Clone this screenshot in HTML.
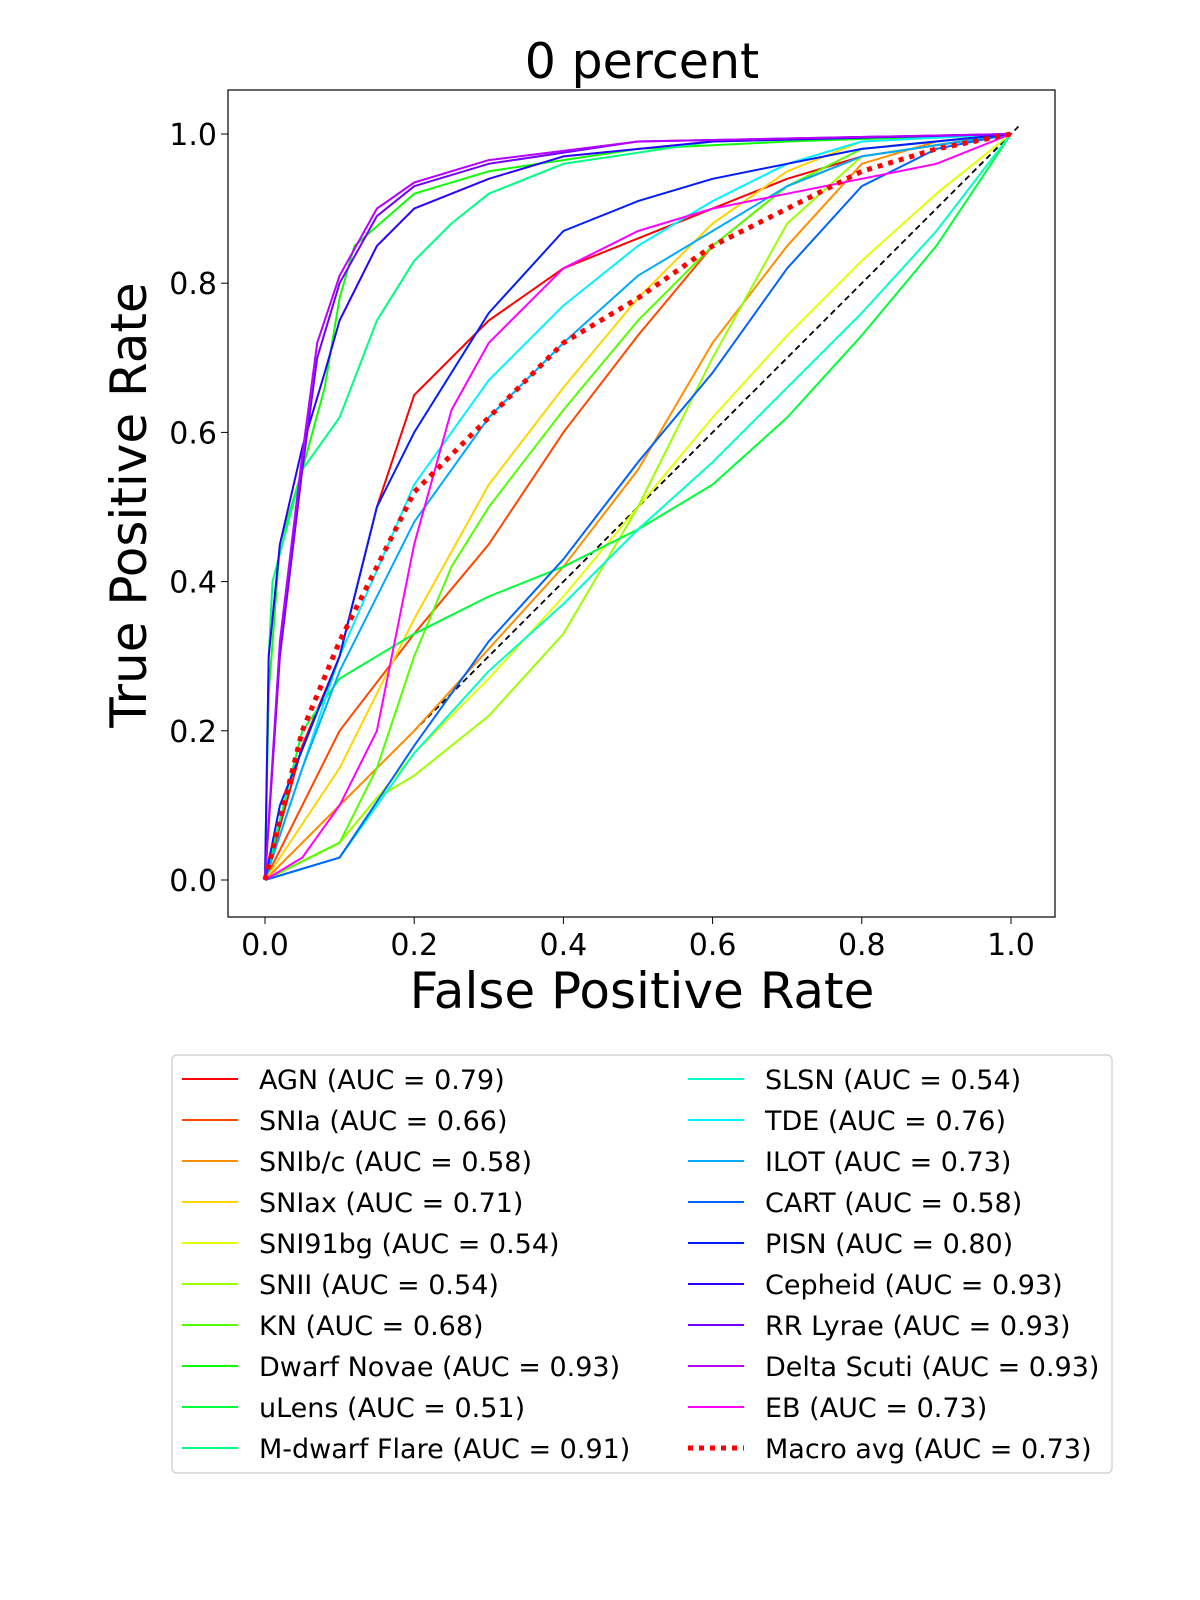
<!DOCTYPE html>
<html><head><meta charset="utf-8"><style>
body{margin:0;background:#fff;}
svg{display:block;font-family:"DejaVu Sans","Liberation Sans",sans-serif;}
</style></head><body>
<svg id="chart" width="1200" height="1600" viewBox="0 0 1200 1600">
<text x="642" y="78" font-size="49" text-anchor="middle">0 percent</text>
<rect x="228" y="90" width="827" height="827" fill="#fff" stroke="#000" stroke-width="1.2"/>
<g id="ticks"></g>
<g id="curves"></g>
<text x="642" y="1008" font-size="50" text-anchor="middle">False Positive Rate</text>
<text transform="translate(146,505) rotate(-90)" font-size="50" text-anchor="middle">True Positive Rate</text>
<rect x="172" y="1055" width="940" height="418" rx="5" fill="#fff" stroke="#ccc" stroke-width="1.2"/>
<g id="legend"></g>
</svg>
<script>
const ticks=[0,0.2,0.4,0.6,0.8,1.0];
const tickLabels=["0.0","0.2","0.4","0.6","0.8","1.0"];
const classNames=["AGN","SNIa","SNIb/c","SNIax","SNI91bg","SNII","KN","Dwarf Novae","uLens","M-dwarf Flare","SLSN","TDE","ILOT","CART","PISN","Cepheid","RR Lyrae","Delta Scuti","EB"];
const aucs=["0.79","0.66","0.58","0.71","0.54","0.54","0.68","0.93","0.51","0.91","0.54","0.76","0.73","0.58","0.80","0.93","0.93","0.93","0.73"];
const fprs=[
[0,0.05,0.1,0.15,0.2,0.3,0.4,0.5,0.6,0.7,0.8,1],
[0,0.1,0.2,0.3,0.4,0.5,0.6,0.7,0.8,1],
[0,0.2,0.4,0.5,0.6,0.7,0.8,0.9,1],
[0,0.1,0.2,0.3,0.4,0.5,0.6,0.7,0.8,1],
[0,0.1,0.2,0.3,0.4,0.5,0.6,0.7,0.8,0.9,1],
[0,0.1,0.15,0.2,0.3,0.4,0.5,0.6,0.7,0.8,1],
[0,0.1,0.15,0.2,0.25,0.3,0.4,0.5,0.6,0.7,0.8,1],
[0,0.005,0.02,0.05,0.08,0.1,0.12,0.2,0.3,0.5,0.7,1],
[0,0.05,0.1,0.2,0.3,0.4,0.5,0.6,0.7,0.8,0.9,1],
[0,0.005,0.01,0.05,0.1,0.15,0.2,0.25,0.3,0.4,0.6,1],
[0,0.1,0.2,0.3,0.4,0.5,0.6,0.7,0.8,0.9,1],
[0,0.05,0.1,0.2,0.3,0.4,0.5,0.6,0.7,0.8,1],
[0,0.05,0.1,0.2,0.3,0.4,0.5,0.6,0.7,0.8,1],
[0,0.1,0.2,0.3,0.4,0.5,0.6,0.7,0.8,0.9,1],
[0,0.02,0.1,0.15,0.2,0.3,0.4,0.5,0.6,0.7,0.8,1],
[0,0.005,0.02,0.05,0.08,0.1,0.15,0.2,0.3,0.4,0.6,1],
[0,0.02,0.05,0.07,0.1,0.15,0.2,0.3,0.5,1],
[0,0.02,0.05,0.07,0.1,0.15,0.2,0.3,0.5,1],
[0,0.05,0.1,0.15,0.2,0.25,0.3,0.4,0.5,0.6,0.7,0.8,0.9,1]];
const tprs=[
[0,0.18,0.3,0.5,0.65,0.75,0.82,0.86,0.9,0.94,0.97,1],
[0,0.2,0.33,0.45,0.6,0.73,0.85,0.93,0.97,1],
[0,0.2,0.42,0.55,0.72,0.85,0.96,0.99,1],
[0,0.15,0.35,0.53,0.66,0.78,0.88,0.95,0.99,1],
[0,0.05,0.17,0.27,0.38,0.5,0.62,0.73,0.83,0.92,1],
[0,0.05,0.11,0.14,0.22,0.33,0.5,0.7,0.88,0.97,1],
[0,0.05,0.15,0.3,0.42,0.5,0.63,0.75,0.85,0.93,0.98,1],
[0,0.25,0.45,0.55,0.66,0.78,0.85,0.92,0.95,0.98,0.99,1],
[0,0.2,0.27,0.33,0.38,0.42,0.47,0.53,0.62,0.73,0.85,1],
[0,0.3,0.4,0.55,0.62,0.75,0.83,0.88,0.92,0.96,0.99,1],
[0,0.03,0.17,0.28,0.37,0.47,0.56,0.66,0.76,0.87,1],
[0,0.15,0.3,0.53,0.67,0.77,0.85,0.91,0.96,0.99,1],
[0,0.15,0.28,0.48,0.62,0.72,0.81,0.87,0.93,0.97,1],
[0,0.03,0.18,0.32,0.43,0.56,0.68,0.82,0.93,0.98,1],
[0,0.1,0.3,0.5,0.6,0.76,0.87,0.91,0.94,0.96,0.98,1],
[0,0.3,0.45,0.58,0.68,0.75,0.85,0.9,0.94,0.97,0.99,1],
[0,0.3,0.55,0.7,0.8,0.89,0.93,0.96,0.99,1],
[0,0.32,0.57,0.72,0.81,0.9,0.935,0.965,0.99,1],
[0,0.03,0.1,0.2,0.45,0.63,0.72,0.82,0.87,0.9,0.92,0.94,0.96,1]];
const macroFpr=[0,0.05,0.1,0.2,0.3,0.4,0.5,0.6,0.7,0.8,0.9,1];
const macroTpr=[0,0.2,0.32,0.52,0.62,0.72,0.78,0.85,0.9,0.95,0.98,1];

const NS="http://www.w3.org/2000/svg";
const X0=265,X1=1011,Y0=880,Y1=134;
function sx(v){return X0+v*(X1-X0);}
function sy(v){return Y0-v*(Y0-Y1);}
function mk(tag,attrs,parent){const e=document.createElementNS(NS,tag);for(const k in attrs)e.setAttribute(k,attrs[k]);parent.appendChild(e);return e;}
function color(i){return "hsl("+(i*300/18)+",100%,50%)";}
const tg=document.getElementById('ticks');
ticks.forEach((t,i)=>{
 let l=mk('line',{x1:sx(t),x2:sx(t),y1:917,y2:924,stroke:'#000'},tg);
 
 
 let tx=mk('text',{x:sx(t),y:955,'font-size':30,'text-anchor':'middle'},tg);tx.textContent=tickLabels[i];
 
 
 let l2=mk('line',{x1:221,x2:228,y1:sy(t),y2:sy(t),stroke:'#000'},tg);
 
 
 let ty=mk('text',{x:217,y:sy(t)+11,'font-size':30,'text-anchor':'end'},tg);ty.textContent=tickLabels[i];
 
 
});
const cg=document.getElementById('curves');
function pathD(xs,ys){return xs.map((x,j)=>(j?'L':'M')+sx(x).toFixed(1)+','+sy(ys[j]).toFixed(1)).join(' ');}
let diag=mk('line',{x1:sx(0),y1:sy(0),x2:sx(1.01),y2:sy(1.01),stroke:'#000','stroke-width':1.8,'stroke-dasharray':'6,4'},cg);


classNames.forEach((n,i)=>{
 let p=mk('path',{d:pathD(fprs[i],tprs[i]),fill:'none',stroke:color(i),'stroke-width':2,'stroke-linejoin':'round'},cg);
 
 
});
let mp=mk('path',{d:pathD(macroFpr,macroTpr),fill:'none',stroke:'#ff0000','stroke-width':5,'stroke-dasharray':'5,6'},cg);


const lg=document.getElementById('legend');
const entries=classNames.map((n,i)=>({label:n+" (AUC = "+aucs[i]+")",c:color(i),macro:false}));
entries.push({label:"Macro avg (AUC = 0.73)",c:'#ff0000',macro:true});
entries.forEach((e,i)=>{
 const col=i<10?0:1,row=i%10;
 const lx=col?688:182,tx=col?765:259,y=1079+row*41;
 let g=mk('g',{},lg);
 
 
 mk('line',e.macro?{x1:lx,x2:lx+56,y1:y,y2:y,stroke:e.c,'stroke-width':5,'stroke-dasharray':'5,6'}:{x1:lx,x2:lx+56,y1:y,y2:y,stroke:e.c,'stroke-width':2},g);
 let t=mk('text',{x:tx,y:y+10,'font-size':27},g);t.textContent=e.label;
});
</script>
</body></html>
